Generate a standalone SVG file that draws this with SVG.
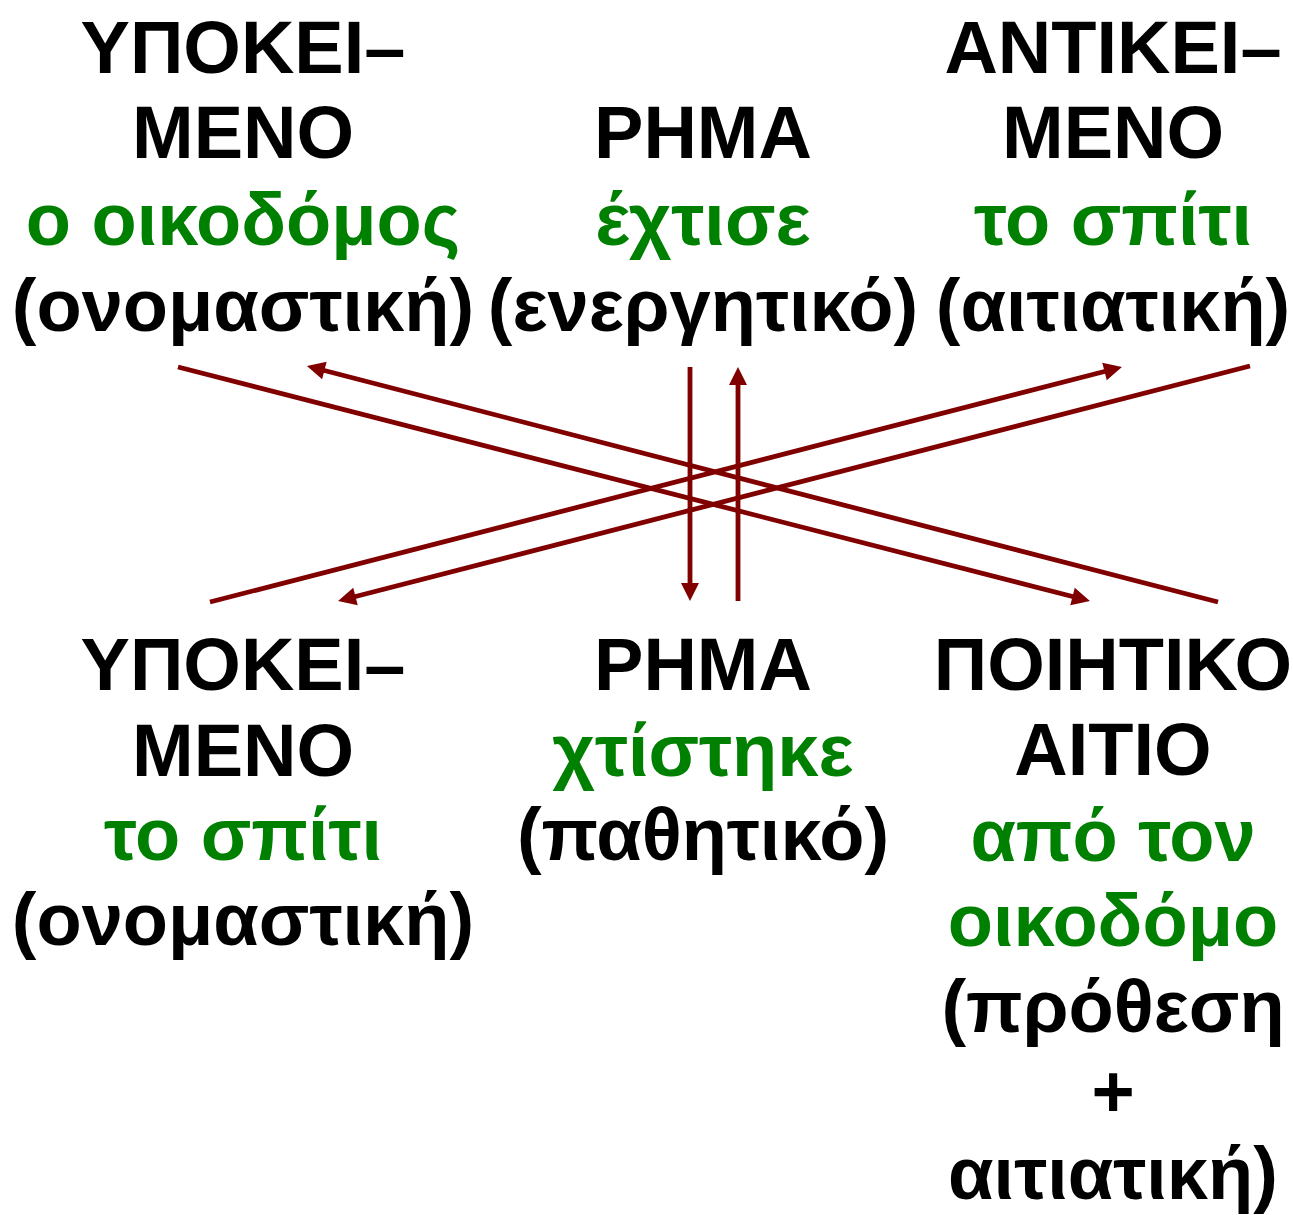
<svg xmlns="http://www.w3.org/2000/svg" width="1293" height="1215" viewBox="0 0 1293 1215">
<style>
text{font-family:"Liberation Sans",Arial,sans-serif;font-weight:bold;font-size:74px;text-anchor:middle;fill:#000}
.g{fill:#008000}
.c line{stroke:#800000;stroke-width:4.8;fill:none}
.a{marker-end:url(#ah)}
</style>
<defs>
<marker id="ah" markerUnits="userSpaceOnUse" markerWidth="18" markerHeight="18" refX="7" refY="9" orient="auto" overflow="visible">
<path d="M0,0 L18,9 L0,18 z" fill="#800000"/>
</marker>
</defs>
<rect width="1293" height="1215" fill="#fff"/>
<g id="subject-active">
<text x="243" y="73">ΥΠΟΚΕΙ–</text>
<text x="243" y="158">ΜΕΝΟ</text>
<text x="243" y="245" class="g">ο οικοδόμος</text>
<text x="243" y="331">(ονομαστική)</text>
</g>
<g id="verb-active">
<text x="703" y="158">ΡΗΜΑ</text>
<text x="703" y="245" class="g">έχτισε</text>
<text x="703" y="331">(ενεργητικό)</text>
</g>
<g id="object-active">
<text x="1113" y="73">ΑΝΤΙΚΕΙ–</text>
<text x="1113" y="158">ΜΕΝΟ</text>
<text x="1113" y="245" class="g">το σπίτι</text>
<text x="1113" y="331">(αιτιατική)</text>
</g>
<g id="subject-passive">
<text x="243" y="690">ΥΠΟΚΕΙ–</text>
<text x="243" y="776">ΜΕΝΟ</text>
<text x="243" y="860" class="g">το σπίτι</text>
<text x="243" y="945">(ονομαστική)</text>
</g>
<g id="verb-passive">
<text x="703" y="690">ΡΗΜΑ</text>
<text x="703" y="776" class="g">χτίστηκε</text>
<text x="703" y="860">(παθητικό)</text>
</g>
<g id="agent-passive">
<text x="1113" y="690">ΠΟΙΗΤΙΚΟ</text>
<text x="1113" y="775">ΑΙΤΙΟ</text>
<text x="1113" y="861" class="g">από τον</text>
<text x="1113" y="946" class="g">οικοδόμο</text>
<text x="1113" y="1032">(πρόθεση</text>
<text x="1113" y="1117">+</text>
<text x="1113" y="1199">αιτιατική)</text>
</g>
<g id="connectors" class="c">
<line class="a" x1="178" y1="367" x2="1079.3" y2="598.3"/>
<line class="a" x1="1218" y1="602" x2="317.6" y2="368.8"/>
<line class="a" x1="210" y1="602" x2="1111.3" y2="369.7"/>
<line class="a" x1="1250" y1="366" x2="348.7" y2="598.3"/>
<line class="a" x1="690" y1="367" x2="690" y2="590"/>
<line class="a" x1="738" y1="601" x2="738" y2="378"/>
</g>
</svg>
